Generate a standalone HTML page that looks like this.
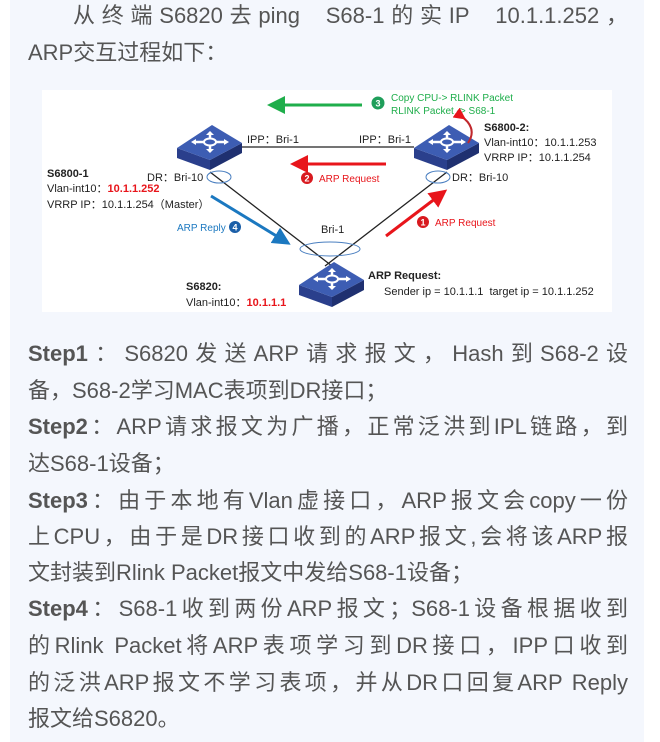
<!DOCTYPE html>
<html><head><meta charset="utf-8"><style>
html,body{margin:0;padding:0;background:#fff;}
body{width:660px;height:742px;position:relative;overflow:hidden;font-family:"Liberation Sans","Noto Sans CJK SC",sans-serif;}
.panel{position:absolute;left:10px;top:0;width:634px;height:742px;background:#f4f7fd;}
.t{position:absolute;color:#555;font-size:22px;white-space:nowrap;}
.l{position:absolute;left:28px;width:600px;color:#555;font-size:22px;text-align:justify;text-align-last:justify;white-space:nowrap;height:30px;line-height:30px;}
.l.n{text-align-last:left;}
b{color:#555;}
svg{position:absolute;left:0;top:0;}
</style></head><body>
<div class="panel"></div>
<div class="l" style="left:73px;width:555px;top:1px;">从终端S6820去ping&nbsp; S68-1的实IP&nbsp; 10.1.1.252，</div>
<div class="t" style="left:28px;top:35px;">ARP交互过程如下：</div>
<div class="l" style="top:339px"><b>Step1</b>：S6820发送ARP请求报文，Hash到S68-2设</div>
<div class="l n" style="top:376px">备，S68-2学习MAC表项到DR接口；</div>
<div class="l" style="top:412px"><b>Step2</b>：ARP请求报文为广播，正常泛洪到IPL链路，到</div>
<div class="l n" style="top:449px">达S68-1设备；</div>
<div class="l" style="top:486px"><b>Step3</b>：由于本地有Vlan虚接口，ARP报文会copy一份</div>
<div class="l" style="top:522px">上CPU，由于是DR接口收到的ARP报文,会将该ARP报</div>
<div class="l n" style="top:558px">文封装到Rlink Packet报文中发给S68-1设备；</div>
<div class="l" style="top:594px"><b>Step4</b>：S68-1收到两份ARP报文；S68-1设备根据收到</div>
<div class="l" style="top:631px">的Rlink Packet将ARP表项学习到DR接口，IPP口收到</div>
<div class="l" style="top:668px">的泛洪ARP报文不学习表项，并从DR口回复ARP Reply</div>
<div class="l n" style="top:704px">报文给S6820。</div>

<svg width="660" height="742" viewBox="0 0 660 742" font-family="Liberation Sans, sans-serif">
<defs>
<g id="sw">
<polygon points="-33,2 0,14 0,24 -33,12" fill="#2a3f8c"/>
<polygon points="0,14 32,-3 32,7 0,24" fill="#1f3070"/>
<polygon points="2,-21 32,-3 0,14 -33,2" fill="#3d5db3"/>
<g stroke="#fff" stroke-width="2.5" fill="none">
<line x1="-16" y1="-4" x2="16" y2="-4"/><line x1="0" y1="-13" x2="0" y2="5"/>
</g>
<ellipse cx="0" cy="-4" rx="6" ry="3.5" fill="#3d5db3" stroke="#fff" stroke-width="2"/>
<polygon points="-19,-4 -14,-7 -14,-1" fill="#fff"/><polygon points="19,-4 14,-7 14,-1" fill="#fff"/>
<polygon points="0,-15 -4,-11 4,-11" fill="#fff"/><polygon points="0,7 -4,3 4,3" fill="#fff"/>
</g>
<marker id="ag" markerWidth="6" markerHeight="6" refX="3" refY="3" orient="auto"><path d="M0,0 L6,3 L0,6 z" fill="#1fae4b"/></marker>
<marker id="ar" markerWidth="6" markerHeight="6" refX="3" refY="3" orient="auto"><path d="M0,0 L6,3 L0,6 z" fill="#e8151b"/></marker>
<marker id="ab" markerWidth="6" markerHeight="6" refX="3" refY="3" orient="auto"><path d="M0,0 L6,3 L0,6 z" fill="#1b78c0"/></marker>
</defs>
<rect x="42" y="90" width="570" height="222" fill="#fff"/>
<line x1="242" y1="147" x2="414" y2="147" stroke="#222" stroke-width="1.3"/>
<line x1="210" y1="172" x2="332" y2="266" stroke="#222" stroke-width="1.3"/>
<line x1="447" y1="172" x2="325" y2="266" stroke="#222" stroke-width="1.3"/>
<ellipse cx="219" cy="177" rx="12" ry="6" fill="none" stroke="#4a7fc0"/>
<ellipse cx="438" cy="177" rx="12" ry="6" fill="none" stroke="#4a7fc0"/>
<ellipse cx="330" cy="249" rx="30" ry="7" fill="none" stroke="#4a7fc0"/>
<use href="#sw" x="210" y="146"/>
<use href="#sw" x="447" y="146"/>
<use href="#sw" x="332" y="283"/>
<line x1="362" y1="105" x2="276" y2="105" stroke="#1fae4b" stroke-width="3" marker-end="url(#ag)"/>
<circle cx="378" cy="103" r="6.5" fill="#1f9e5a"/><text x="378" y="106.5" font-size="9" fill="#fff" text-anchor="middle" font-weight="bold">3</text>
<text x="391" y="101" font-size="10" fill="#1fae4b">Copy CPU-&gt; RLINK Packet</text>
<text x="391" y="114" font-size="10" fill="#1fae4b">RLINK Packet -&gt; S68-1</text>
<path d="M461,116 Q478,128 468,143" fill="none" stroke="#c0282d" stroke-width="2" marker-start="url(#ar)"/>
<line x1="386" y1="164" x2="299" y2="164" stroke="#e8151b" stroke-width="3" marker-end="url(#ar)"/>
<circle cx="307" cy="178" r="6" fill="#d81a1f"/><text x="307" y="181.5" font-size="9" fill="#fff" text-anchor="middle" font-weight="bold">2</text>
<text x="319" y="182" font-size="10" fill="#e8151b">ARP Request</text>
<line x1="386" y1="236" x2="440" y2="195" stroke="#e8151b" stroke-width="3" marker-end="url(#ar)"/>
<circle cx="423" cy="222" r="6" fill="#d81a1f"/><text x="423" y="225.5" font-size="9" fill="#fff" text-anchor="middle" font-weight="bold">1</text>
<text x="435" y="226" font-size="10" fill="#e8151b">ARP Request</text>
<line x1="211" y1="196" x2="283" y2="240" stroke="#1b78c0" stroke-width="3" marker-end="url(#ab)"/>
<text x="177" y="231" font-size="10" fill="#1b78c0">ARP Reply</text>
<circle cx="235" cy="227" r="6" fill="#1b5fa8"/><text x="235" y="230.5" font-size="9" fill="#fff" text-anchor="middle" font-weight="bold">4</text>
<g font-size="11" fill="#222">
<text x="247" y="143">IPP：Bri-1</text>
<text x="359" y="143">IPP：Bri-1</text>
<text x="484" y="131" font-weight="bold">S6800-2:</text>
<text x="484" y="146">Vlan-int10：10.1.1.253</text>
<text x="484" y="161">VRRP IP：10.1.1.254</text>
<text x="452" y="181">DR：Bri-10</text>
<text x="147" y="181">DR：Bri-10</text>
<text x="47" y="177" font-weight="bold">S6800-1</text>
<text x="47" y="192">Vlan-int10：<tspan fill="#e8151b" font-weight="bold">10.1.1.252</tspan></text>
<text x="47" y="208">VRRP IP：10.1.1.254（Master）</text>
<text x="321" y="233">Bri-1</text>
<text x="368" y="279" font-weight="bold">ARP Request:</text>
<text x="384" y="295">Sender ip = 10.1.1.1&nbsp; target ip = 10.1.1.252</text>
<text x="186" y="290" font-weight="bold">S6820:</text>
<text x="186" y="306">Vlan-int10：<tspan fill="#e8151b" font-weight="bold">10.1.1.1</tspan></text>
</g>
</svg>
</body></html>
